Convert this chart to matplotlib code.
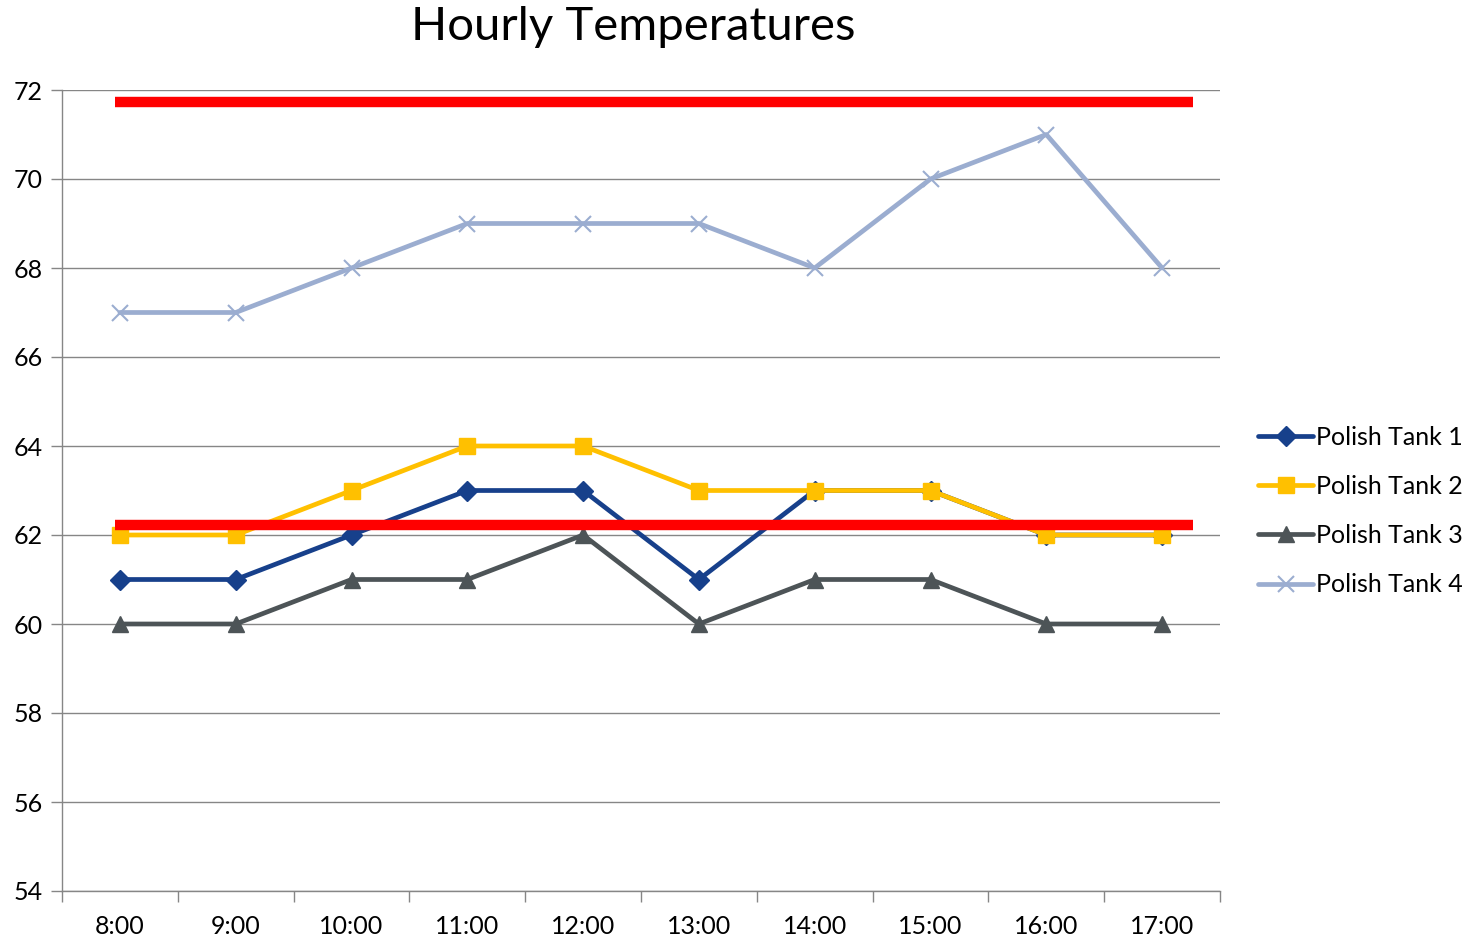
import numpy as np
import matplotlib.pyplot as plt

plt.rcParams['font.family'] = ['Lato', 'DejaVu Sans']

hours = ['8:00', '9:00', '10:00', '11:00', '12:00', '13:00', '14:00', '15:00', '16:00', '17:00']
tank1 = [61, 61, 62, 63, 63, 61, 63, 63, 62, 62]
tank2 = [62, 62, 63, 64, 64, 63, 63, 63, 62, 62]
tank3 = [60, 60, 61, 61, 62, 60, 61, 61, 60, 60]
tank4 = [67, 67, 68, 69, 69, 69, 68, 70, 71, 68]
upper_limit = 71.73
lower_limit = 62.22

series = [
    ('Polish Tank 1', tank1, '#17408b', 'D', 10),
    ('Polish Tank 2', tank2, '#ffc000', 's', 11),
    ('Polish Tank 3', tank3, '#4d5457', '^', 11),
    ('Polish Tank 4', tank4, '#9badd0', 'x', 12),
]

fig = plt.figure(figsize=(14.68, 9.39), dpi=100)
ax = fig.add_axes([62 / 1468, 48 / 939, 1158 / 1468, 801 / 939])

x = np.arange(len(hours))
for name, vals, col, mk, ms in series:
    ax.plot(x, vals, color=col, linewidth=3.4, marker=mk, markersize=ms,
            markeredgewidth=1.5 if mk == 'x' else 1, markeredgecolor=col,
            label=name, solid_capstyle='round', zorder=3)

# limit bars
for lim in (upper_limit, lower_limit):
    ax.axhline(lim, xmin=0.046, xmax=0.977, color='#ff0000', linewidth=7.5,
               solid_capstyle='butt', zorder=5)

ax.set_xlim(-0.5, len(hours) - 0.5)
ax.set_ylim(54, 72)
ax.set_yticks(np.arange(54, 73, 2))
ax.set_xticks(np.arange(-0.5, len(hours), 1.0))
ax.set_xticklabels([])
ax.set_xticks(x, minor=True)
ax.set_xticklabels(hours, minor=True)
ax.tick_params(axis='x', which='minor', length=0, pad=17, labelsize=18)
ax.tick_params(axis='x', which='major', length=8, color='#868686', width=1)
ax.tick_params(axis='y', length=8, color='#868686', width=1, labelsize=18, pad=6)
ax.grid(axis='y', color='#868686', linewidth=1)
ax.set_axisbelow(True)
for s in ['top', 'right']:
    ax.spines[s].set_visible(False)
for s in ['left', 'bottom']:
    ax.spines[s].set_color('#868686')
    ax.spines[s].set_linewidth(1)

fig.text(633 / 1468, 1 - 27 / 939, 'Hourly Temperatures', ha='center', va='center', fontsize=34)

fig.legend(loc='center left', bbox_to_anchor=(1258 / 1468, 1 - 511 / 939), frameon=False,
           fontsize=18, handlelength=2.2, handletextpad=0.1, labelspacing=1.05,
           borderpad=0, borderaxespad=0)

fig.savefig('out.png', dpi=100)
